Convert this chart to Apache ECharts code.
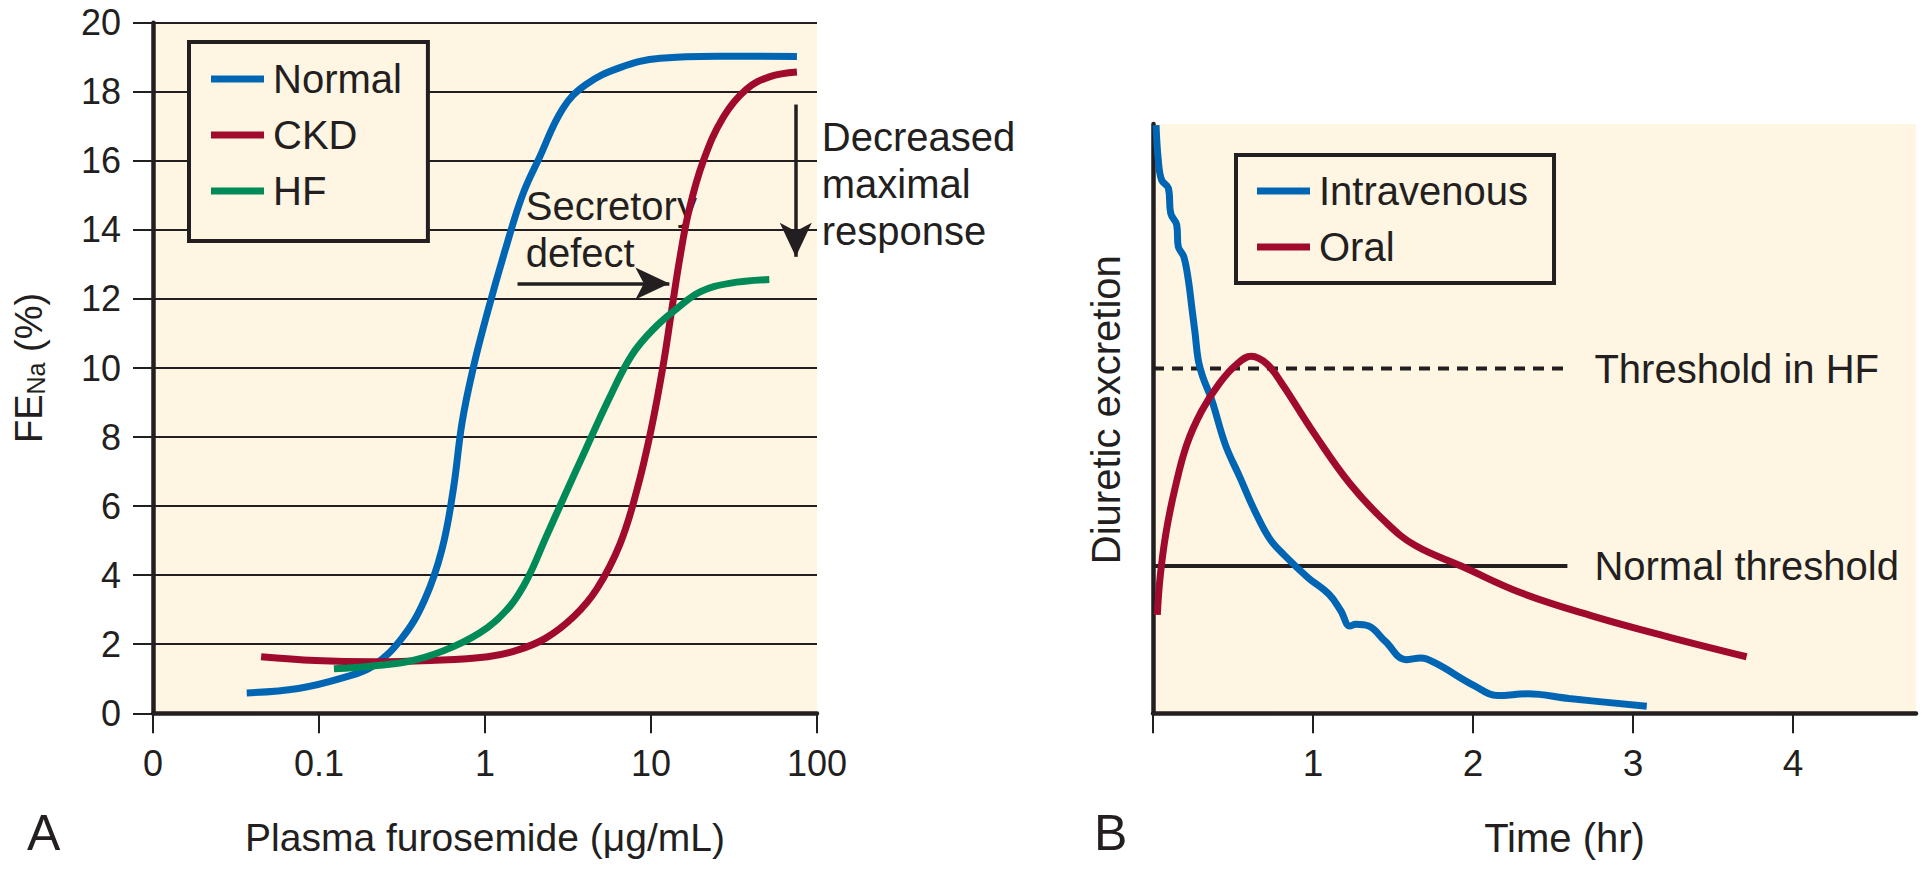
<!DOCTYPE html>
<html>
<head>
<meta charset="utf-8">
<script src="https://cdn.jsdelivr.net/npm/echarts/dist/echarts.min.js"></script>
<style>
  html, body { margin: 0; padding: 0; background: #ffffff; }
  #chart { width: 1929px; height: 870px; }
</style>
</head>
<body>
<div id="chart"></div>
<script>
// Panel A: FE_Na vs plasma furosemide (log scale)
const concNormal = [0.0367, 0.075, 0.142, 0.211, 0.315, 0.433, 0.55, 0.645, 0.728, 0.853, 1.04, 1.32, 1.68, 2.13, 2.93, 4.03, 6.5, 11.4, 25, 75.7];
const feNormal = [0.59, 0.72, 1.04, 1.37, 2.17, 3.29, 4.74, 6.5, 8.43, 10.04, 11.65, 13.4, 15.0, 16.1, 17.5, 18.2, 18.7, 18.97, 19.03, 19.02];
const concCKD = [0.0448, 0.095, 0.211, 0.469, 1.04, 1.55, 2.31, 3.44, 4.73, 6.5, 8.26, 10.07, 11.8, 13.3, 15.0, 16.9, 20.6, 27.3, 37.5, 51.6, 75.7];
const feCKD = [1.64, 1.53, 1.49, 1.53, 1.64, 1.82, 2.17, 2.81, 3.61, 4.9, 6.5, 8.27, 10.04, 11.65, 13.25, 14.54, 15.98, 17.27, 18.07, 18.43, 18.57];
const concHF = [0.123, 0.211, 0.369, 0.645, 1.04, 1.43, 1.82, 2.31, 3.05, 4.03, 5.55, 7.63, 10.5, 14.4, 19.9, 29.6, 51.6];
const feHF = [1.29, 1.37, 1.53, 1.93, 2.49, 3.13, 3.94, 5.06, 6.35, 7.63, 9.08, 10.36, 11.16, 11.73, 12.21, 12.45, 12.56];
const concTickLabels = ['0', '0.1', '1', '10', '100'];

// annotation anchors (data coords)
const secretoryArrow = [[1.57, 12.45], [12.9, 12.45]];
const maximalArrow = [[74.5, 17.63], [74.5, 13.22]];
const secretoryText = [1.76, 14.0];
const maximalText = [74.5, 15.34];

// Panel B: diuretic excretion vs time
const timeIV = [0.019, 0.033, 0.054, 0.096, 0.111, 0.148, 0.158, 0.192, 0.221, 0.242, 0.263, 0.283, 0.311, 0.367, 0.452, 0.544, 0.637, 0.73, 0.822, 0.97, 1.1, 1.174, 1.23, 1.267, 1.348, 1.452, 1.581, 1.674, 1.767, 2.007, 2.156, 2.341, 2.6, 3.086];
const excrIV = [99.8, 93.9, 90.5, 89.1, 84.8, 82.9, 79.2, 77.5, 73.5, 69.0, 64.5, 59.9, 57.1, 53.2, 45.6, 40.0, 34.3, 29.6, 26.8, 23.0, 20.2, 17.4, 14.8, 15.1, 14.8, 12.2, 9.1, 9.4, 8.5, 4.7, 3.0, 3.3, 2.5, 1.2];
const timeOral = [0.027, 0.044, 0.081, 0.137, 0.211, 0.304, 0.415, 0.526, 0.615, 0.711, 0.804, 1.007, 1.23, 1.452, 1.637, 1.933, 2.304, 2.748, 3.23, 3.71];
const excrOral = [16.7, 23.0, 30.6, 38.1, 45.6, 51.3, 56.0, 59.3, 60.6, 59.3, 56.0, 47.5, 39.0, 32.5, 28.5, 24.9, 20.4, 16.5, 12.9, 9.6];
const thresholdHF = 58.5;
const thresholdNormal = 25.0;
const thresholdEnd = 2.59;
const timeTicks = [0, 1, 2, 3, 4];
const timeLabels = [1, 2, 3, 4];

const INK = '#231f20';
const CREAM = '#fef5e3';
const BLUE = '#0066b3';
const RED = '#a00a2d';
const GREEN = '#008a57';
const FONT = 'Liberation Sans, Arial, sans-serif';

const zip = (xs, ys) => xs.map((x, i) => [x, ys[i]]);

const chart = echarts.init(document.getElementById('chart'), null, { renderer: 'svg' });

const curve = (name, color, xs, ys, xi, yi) => ({
    name: name,
    type: 'line',
    xAxisIndex: xi,
    yAxisIndex: yi,
    data: zip(xs, ys),
    smooth: 0.4,
    showSymbol: false,
    symbol: 'none',
    lineStyle: { color: color, width: 7, cap: 'butt' },
    itemStyle: { color: color },
    silent: true,
    z: 5
});

const legendBase = {
    orient: 'vertical',
    icon: 'rect',
    itemWidth: 53,
    itemHeight: 7,
    itemGap: 16,
    borderColor: INK,
    borderWidth: 4,
    backgroundColor: CREAM,
    selectedMode: false,
    textStyle: { fontSize: 40, color: INK, fontFamily: FONT, padding: [0, 0, 0, 4] }
};

const normalSeries = curve('Normal', BLUE, concNormal, feNormal, 0, 0);
normalSeries.markLine = {
    silent: true,
    symbol: ['none', 'arrow'],
    symbolSize: [24, 34],
    lineStyle: { color: INK, width: 3.5, type: 'solid' },
    label: { show: false },
    data: [
        [{ coord: secretoryArrow[0] }, { coord: secretoryArrow[1] }],
        [{ coord: maximalArrow[0] }, { coord: maximalArrow[1] }]
    ]
};
normalSeries.markPoint = {
    silent: true,
    symbol: 'circle',
    symbolSize: 0,
    itemStyle: { color: 'transparent' },
    label: {
        show: true, color: INK, fontSize: 40, fontFamily: FONT, lineHeight: 47,
        align: 'left', verticalAlign: 'middle'
    },
    data: [
        { coord: secretoryText, label: { formatter: 'Secretory\ndefect', position: [0, 0] } },
        { coord: maximalText, label: { formatter: 'Decreased\nmaximal\nresponse', position: [26, 0] } }
    ]
};

const thresholdLine = (name, value, dashed) => ({
    name: name,
    type: 'line',
    xAxisIndex: 1,
    yAxisIndex: 1,
    data: [[0, value], [thresholdEnd, value]],
    showSymbol: false,
    symbol: 'none',
    silent: true,
    lineStyle: { color: INK, width: 4, type: dashed ? [11, 8] : 'solid' },
    endLabel: { show: true, formatter: name, distance: 27, color: INK, fontSize: 40, fontFamily: FONT },
    z: 3
});

const option = {
    animation: false,
    textStyle: { fontFamily: FONT, color: INK },
    title: [
        { text: 'A', left: 27, top: 808, padding: 0, textStyle: { fontSize: 50, fontWeight: 'normal', color: INK, fontFamily: FONT } },
        { text: 'B', left: 1094, top: 808, padding: 0, textStyle: { fontSize: 50, fontWeight: 'normal', color: INK, fontFamily: FONT } }
    ],
    legend: [
        Object.assign({}, legendBase, {
            data: ['Normal', 'CKD', 'HF'],
            left: 189, top: 42,
            padding: [17, 26, 30, 22]
        }),
        Object.assign({}, legendBase, {
            data: ['Intravenous', 'Oral'],
            left: 1236, top: 155,
            padding: [16, 26, 16, 21]
        })
    ],
    grid: [
        { left: 153, top: 22.7, width: 664, height: 690.6, show: true, backgroundColor: CREAM, borderWidth: 0 },
        { left: 1153, top: 124, width: 763, height: 589.3, show: true, backgroundColor: CREAM, borderWidth: 0 }
    ],
    xAxis: [
        {
            gridIndex: 0,
            type: 'log',
            logBase: 10,
            min: 0.01,
            max: 100,
            name: 'Plasma furosemide (μg/mL)',
            nameLocation: 'middle',
            nameGap: 105,
            nameTextStyle: { fontSize: 39, color: INK, fontFamily: FONT },
            axisLine: { lineStyle: { color: INK, width: 4.5 } },
            axisTick: { length: 20, lineStyle: { color: INK, width: 2 } },
            axisLabel: {
                margin: 32, fontSize: 36, color: INK, fontFamily: FONT,
                showMinLabel: true, showMaxLabel: true,
                formatter: (v, i) => concTickLabels[i]
            },
            splitLine: { show: false },
            minorTick: { show: false }
        },
        {
            gridIndex: 1,
            type: 'value',
            min: 0,
            max: 763 / 160,
            name: 'Time (hr)',
            nameLocation: 'middle',
            nameGap: 105,
            nameTextStyle: { fontSize: 40, color: INK, fontFamily: FONT, padding: [0, 0, 0, 60] },
            axisLine: { lineStyle: { color: INK, width: 4.5 } },
            axisTick: { length: 20, customValues: timeTicks, lineStyle: { color: INK, width: 2 } },
            axisLabel: { margin: 32, fontSize: 37, color: INK, fontFamily: FONT, customValues: timeLabels },
            splitLine: { show: false }
        }
    ],
    yAxis: [
        {
            gridIndex: 0,
            type: 'value',
            min: 0,
            max: 20,
            interval: 2,
            name: '{b|FE}{s|Na}{b| (%)}',
            nameLocation: 'middle',
            nameRotate: 90,
            nameGap: 105,
            nameTextStyle: {
                rich: {
                    b: { fontSize: 38, lineHeight: 38, color: INK, fontFamily: FONT, verticalAlign: 'top' },
                    s: { fontSize: 25, lineHeight: 25, color: INK, fontFamily: FONT, verticalAlign: 'bottom', padding: [22, 0, 0, 0] }
                }
            },
            axisLine: { show: true, lineStyle: { color: INK, width: 4.5 } },
            axisTick: { show: true, length: 20, lineStyle: { color: INK, width: 2 } },
            axisLabel: { margin: 32, fontSize: 36, color: INK, fontFamily: FONT },
            splitLine: { show: true, lineStyle: { color: INK, width: 2 } }
        },
        {
            gridIndex: 1,
            type: 'value',
            min: 0,
            max: 100,
            name: 'Diuretic excretion',
            nameLocation: 'middle',
            nameRotate: 90,
            nameGap: 27,
            nameTextStyle: { fontSize: 40, color: INK, fontFamily: FONT, padding: [0, 0, 0, 18] },
            axisLine: { show: true, lineStyle: { color: INK, width: 4.5 } },
            axisTick: { show: false },
            axisLabel: { show: false },
            splitLine: { show: false }
        }
    ],
    series: [
        normalSeries,
        curve('CKD', RED, concCKD, feCKD, 0, 0),
        curve('HF', GREEN, concHF, feHF, 0, 0),
        thresholdLine('Threshold in HF', thresholdHF, true),
        thresholdLine('Normal threshold', thresholdNormal, false),
        curve('Intravenous', BLUE, timeIV, excrIV, 1, 1),
        curve('Oral', RED, timeOral, excrOral, 1, 1)
    ]
};

chart.setOption(option);
</script>
</body>
</html>
